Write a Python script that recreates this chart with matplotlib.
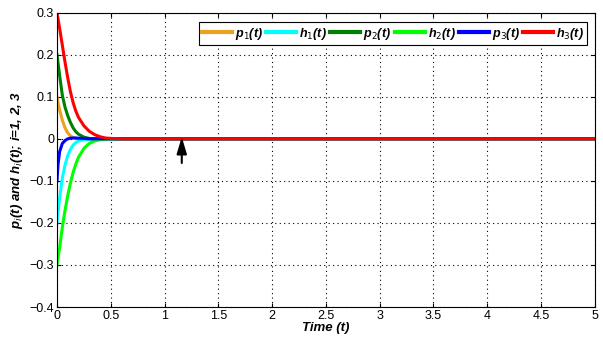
import numpy as np
import matplotlib
matplotlib.use('Agg')
import matplotlib.pyplot as plt
from matplotlib.ticker import FuncFormatter

plt.rcParams['font.family'] = ['Liberation Sans', 'DejaVu Sans']

# sample times and values
t = [0, 0.01, 0.025, 0.05, 0.075, 0.1, 0.125, 0.15, 0.175, 0.2,
     0.25, 0.3, 0.35, 0.4, 0.45, 0.5, 0.6, 5.0]

p1 = [0.1, 0.086, 0.068, 0.044, 0.026, 0.014, 0.007, 0.003, 0.001, 0.0,
      0.0, 0.0, 0.0, 0.0, 0.0, 0.0, 0.0, 0.0]
h1 = [-0.2, -0.175, -0.14, -0.093, -0.062, -0.040, -0.025, -0.015, -0.009, -0.005,
      -0.002, -0.001, 0.0, 0.0, 0.0, 0.0, 0.0, 0.0]
p2 = [0.2, 0.18, 0.15, 0.103, 0.075, 0.055, 0.039, 0.026, 0.017, 0.011,
      0.004, 0.001, 0.0, 0.0, 0.0, 0.0, 0.0, 0.0]
h2 = [-0.3, -0.283, -0.258, -0.21, -0.17, -0.135, -0.105, -0.080, -0.060, -0.044,
      -0.023, -0.011, -0.005, -0.002, -0.001, 0.0, 0.0, 0.0]
p3 = [-0.1, -0.06, -0.03, -0.011, -0.004, 0.0, 0.0015, 0.002, 0.002, 0.0015,
      0.001, 0.0, 0.0, 0.0, 0.0, 0.0, 0.0, 0.0]
h3 = [0.3, 0.285, 0.262, 0.222, 0.182, 0.145, 0.112, 0.086, 0.066, 0.051,
      0.031, 0.018, 0.010, 0.005, 0.002, 0.001, 0.0, 0.0]

series = [p1, h1, p2, h2, p3, h3]
labels = ['p$_1$(t)', 'h$_1$(t)', 'p$_2$(t)', 'h$_2$(t)', 'p$_3$(t)', 'h$_3$(t)']
colors = ['#EBA21E', '#00FFFF', '#007F00', '#00FF00', '#0000FF', '#FF0000']

arrow_t, arrow_tip, arrow_tail = 1.16, 0.011, -0.064

fig = plt.figure(figsize=(6.03, 3.42), dpi=100)
ax = fig.add_axes([0.0945, 0.1023, 0.892, 0.8606])

for y, c, lab in zip(series, colors, labels):
    ax.plot(t, y, color=c, lw=2.2, label=lab)

ax.annotate('', xy=(arrow_t, arrow_tip), xytext=(arrow_t, arrow_tail),
            arrowprops=dict(arrowstyle='-|>,head_width=0.3,head_length=1.0',
                            color='black', lw=1.5))


def tick_fmt(v, _):
    if abs(v) < 1e-9:
        return '0'
    return ('%g' % round(v, 2)).replace('-', '\u2212')


ax.set_xlim(0, 5)
ax.set_ylim(-0.4, 0.3)
ax.set_xticks(np.arange(0, 5.01, 0.5))
ax.set_yticks(np.arange(-0.4, 0.301, 0.1))
ax.xaxis.set_major_formatter(FuncFormatter(tick_fmt))
ax.yaxis.set_major_formatter(FuncFormatter(tick_fmt))
ax.tick_params(direction='in', top=True, right=True, labelsize=9, length=3, width=0.8, pad=2)
ax.grid(True, color='black', linestyle=(0, (1, 3)), lw=0.8)
for s in ax.spines.values():
    s.set_linewidth(0.8)

ax.set_xlabel('Time (t)', fontsize=9.5, fontweight='bold', style='italic', labelpad=0)
ax.set_ylabel('p$_i$(t) and h$_i$(t); i=1, 2, 3', fontsize=9.5, fontweight='bold',
              style='italic', labelpad=3)

leg = ax.legend(ncol=6, loc='upper right', bbox_to_anchor=(0.997, 0.988),
                prop=dict(weight='bold', style='italic', size=9),
                handlelength=2.4, handletextpad=0.25, columnspacing=0.25,
                fancybox=False, edgecolor='black', framealpha=1, borderpad=0.25)
leg.get_frame().set_linewidth(0.8)
for line in leg.get_lines():
    line.set_linewidth(3)

fig.savefig('out.png', dpi=100)
